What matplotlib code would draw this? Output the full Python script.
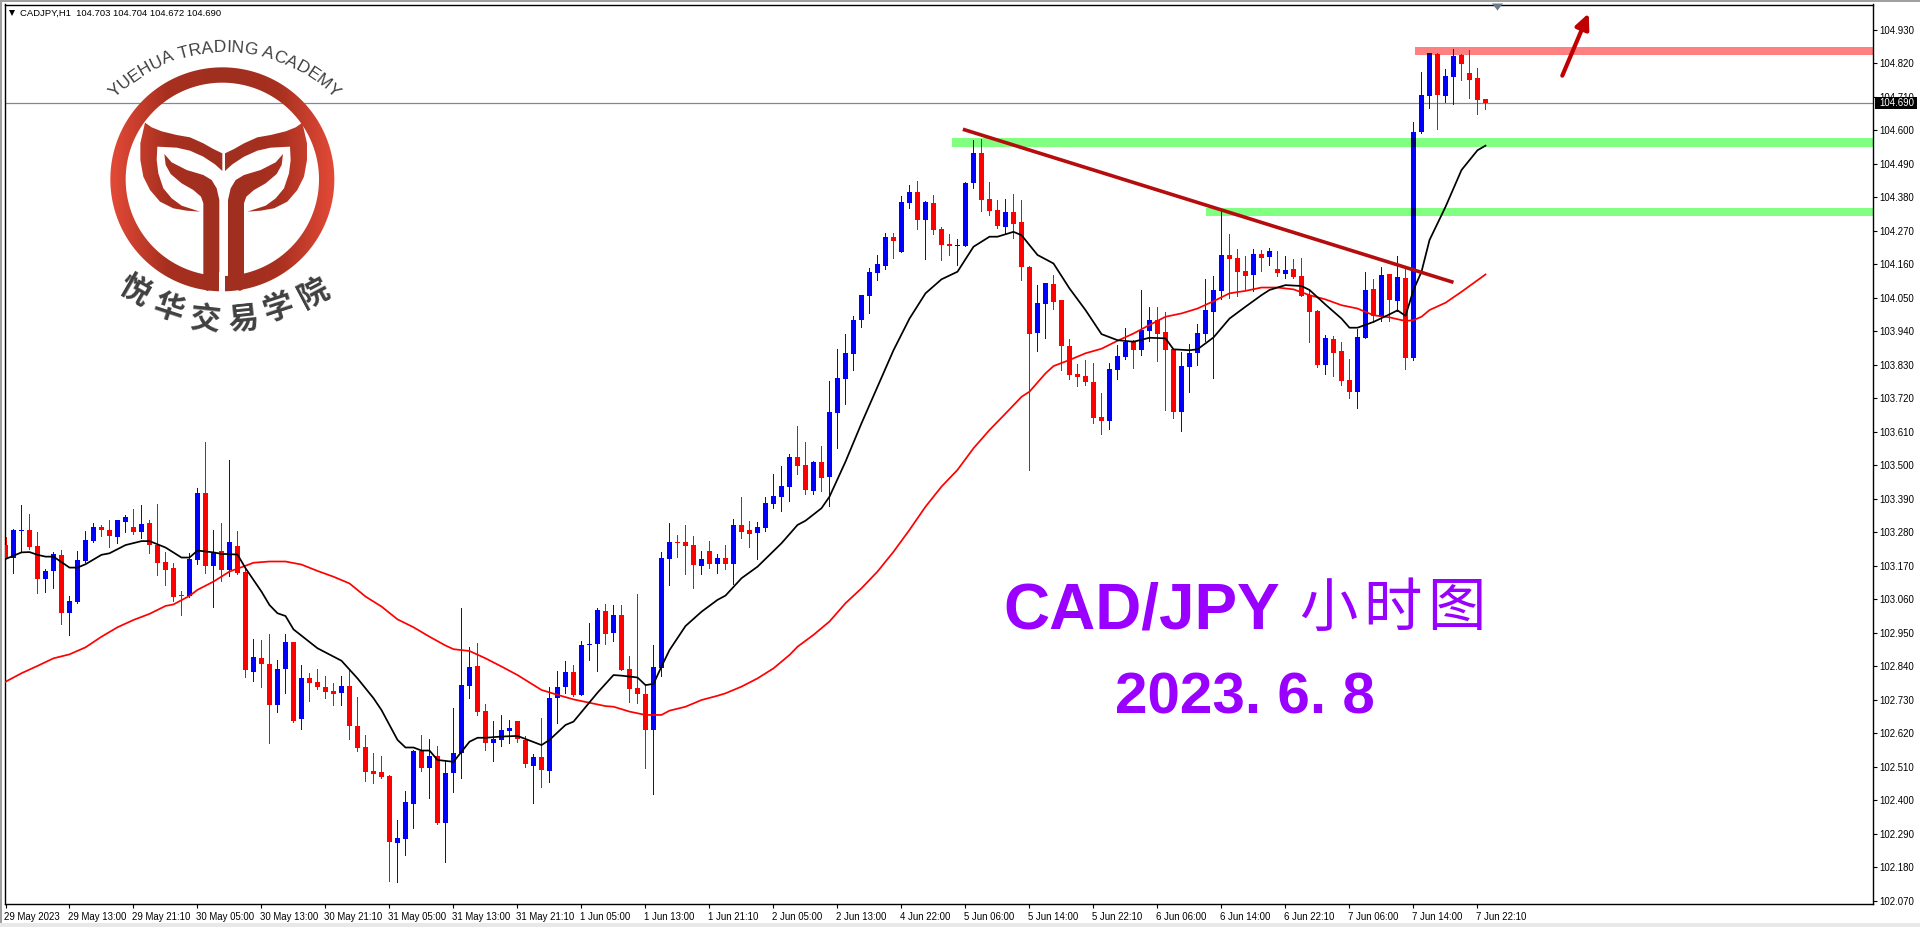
import numpy as np
import matplotlib
matplotlib.use('Agg')
import matplotlib.pyplot as plt
from matplotlib.patches import Polygon, Rectangle
from matplotlib.colors import LinearSegmentedColormap
from matplotlib.transforms import ScaledTranslation

plt.rcParams['font.family'] = ['Liberation Sans', 'DejaVu Sans']

### Data ###

opens = [103.238,103.195,103.285,103.288,103.235,103.128,103.154,103.206,103.016,103.051,
         103.186,103.251,103.297,103.288,103.265,103.315,103.297,103.281,103.311,103.238,
         103.183,103.163,103.074,103.071,103.190,103.409,103.170,103.219,103.157,103.235,
         103.150,102.822,102.867,102.847,102.714,102.831,102.920,102.665,102.801,102.788,
         102.772,102.759,102.752,102.775,102.644,102.575,102.496,102.493,102.479,102.259,
         102.273,102.388,102.562,102.506,102.545,102.325,102.489,102.555,102.775,102.841,
         102.693,102.588,102.598,102.627,102.660,102.598,102.512,102.542,102.496,102.734,
         102.772,102.821,102.746,102.910,102.913,103.022,102.949,103.008,102.831,102.769,
         102.749,102.631,102.834,103.192,103.248,103.248,103.238,103.169,103.219,103.176,
         103.196,103.176,103.304,103.288,103.278,103.294,103.373,103.396,103.429,103.527,
         103.501,103.416,103.511,103.462,103.672,103.783,103.865,103.977,104.056,104.131,
         104.154,104.250,104.200,104.361,104.397,104.306,104.361,104.276,104.227,104.220,
         104.220,104.427,104.526,104.374,104.338,104.282,104.332,104.299,104.151,103.934,
         104.030,104.095,104.043,103.892,103.800,103.793,103.773,103.658,103.645,103.813,
         103.855,103.905,103.878,103.941,103.977,103.938,103.882,103.675,103.823,103.869,
         103.931,104.003,104.072,104.191,104.181,104.138,104.125,104.194,104.184,104.145,
         104.128,104.145,104.122,104.059,104.007,103.829,103.915,103.875,103.780,103.740,
         103.918,104.079,103.987,104.128,104.039,104.115,103.852,104.595,104.713,104.851,
         104.713,104.776,104.848,104.789,104.772,104.703]
closes = [103.195,103.288,103.288,103.233,103.128,103.153,103.208,103.016,103.054,103.189,
          103.255,103.297,103.289,103.269,103.321,103.330,103.281,103.307,103.239,103.180,
          103.157,103.069,103.070,103.192,103.409,103.170,103.212,103.157,103.248,103.147,
          102.826,102.870,102.847,102.714,102.831,102.920,102.660,102.801,102.785,102.772,
          102.755,102.749,102.775,102.642,102.572,102.493,102.486,102.476,102.264,102.276,
          102.394,102.562,102.506,102.545,102.325,102.489,102.555,102.778,102.838,102.690,
          102.588,102.601,102.631,102.637,102.601,102.519,102.542,102.499,102.736,102.772,
          102.821,102.746,102.910,102.913,103.025,102.946,103.008,102.828,102.765,102.749,
          102.631,102.838,103.196,103.248,103.245,103.235,103.173,103.192,103.176,103.196,
          103.176,103.304,103.281,103.275,103.297,103.376,103.399,103.432,103.527,103.498,
          103.419,103.511,103.458,103.675,103.786,103.869,103.977,104.059,104.135,104.161,
          104.250,104.237,104.365,104.397,104.306,104.365,104.273,104.223,104.220,104.223,
          104.427,104.526,104.371,104.335,104.286,104.332,104.292,104.151,103.931,104.033,
          104.099,104.036,103.892,103.796,103.790,103.773,103.655,103.645,103.816,103.859,
          103.905,103.878,103.944,103.977,103.931,103.878,103.675,103.826,103.869,103.934,
          104.010,104.076,104.191,104.177,104.135,104.122,104.194,104.181,104.204,104.131,
          104.141,104.118,104.056,104.003,103.829,103.918,103.869,103.777,103.740,103.921,
          104.076,103.990,104.125,104.043,104.118,103.852,104.595,104.716,104.855,104.716,
          104.779,104.845,104.818,104.766,104.700,104.690]
highs = [103.266,103.291,103.370,103.340,103.281,103.158,103.214,103.222,103.071,103.219,
         103.284,103.311,103.303,103.321,103.321,103.337,103.357,103.370,103.321,103.373,
         103.215,103.179,103.086,103.211,103.426,103.577,103.288,103.311,103.518,103.284,
         103.167,102.930,102.926,102.946,102.861,102.946,102.920,102.844,102.818,102.831,
         102.808,102.785,102.808,102.828,102.739,102.614,102.555,102.545,102.483,102.335,
         102.430,102.565,102.614,102.601,102.578,102.532,102.703,103.031,102.903,102.916,
         102.716,102.660,102.680,102.663,102.660,102.611,102.552,102.670,102.772,102.824,
         102.857,102.844,102.923,102.982,103.031,103.045,103.041,103.041,102.874,103.077,
         102.778,102.910,103.215,103.311,103.271,103.304,103.268,103.219,103.251,103.209,
         103.238,103.324,103.396,103.317,103.314,103.396,103.472,103.498,103.537,103.629,
         103.577,103.514,103.564,103.777,103.882,103.931,103.990,104.059,104.148,104.191,
         104.263,104.263,104.384,104.420,104.434,104.368,104.388,104.282,104.259,104.243,
         104.430,104.568,104.572,104.430,104.371,104.374,104.391,104.371,104.154,104.092,
         104.099,104.125,104.043,103.915,103.832,103.846,103.836,103.737,103.836,103.895,
         103.951,103.911,104.076,104.020,104.020,104.003,103.882,103.872,103.898,103.964,
         104.112,104.122,104.338,104.259,104.210,104.187,104.210,104.207,104.213,104.204,
         104.187,104.177,104.181,104.076,104.010,103.928,103.924,103.905,103.849,103.947,
         104.135,104.112,104.151,104.128,104.187,104.145,104.627,104.792,104.855,104.855,
         104.802,104.868,104.851,104.864,104.805,104.704]
lows = [103.195,103.147,103.217,103.224,103.082,103.085,103.098,102.980,102.944,103.049,
        103.184,103.249,103.268,103.233,103.246,103.281,103.276,103.261,103.213,103.141,
        103.108,103.055,103.009,103.069,103.177,103.147,103.036,103.121,103.138,103.142,
        102.806,102.793,102.773,102.589,102.691,102.753,102.658,102.635,102.727,102.765,
        102.737,102.714,102.714,102.601,102.563,102.463,102.458,102.474,102.136,102.132,
        102.220,102.310,102.497,102.408,102.323,102.198,102.428,102.474,102.737,102.680,
        102.565,102.529,102.578,102.588,102.591,102.509,102.391,102.443,102.460,102.654,
        102.752,102.742,102.746,102.861,102.824,102.913,102.923,102.828,102.723,102.719,
        102.506,102.420,102.808,103.107,103.199,103.143,103.097,103.143,103.163,103.146,
        103.160,103.110,103.261,103.232,103.192,103.284,103.360,103.350,103.383,103.472,
        103.406,103.406,103.416,103.366,103.557,103.701,103.813,103.954,103.999,104.108,
        104.145,104.181,104.200,104.345,104.276,104.177,104.259,104.174,104.191,104.158,
        104.220,104.411,104.335,104.322,104.279,104.263,104.246,104.108,103.484,103.875,
        103.918,104.013,103.813,103.783,103.760,103.763,103.639,103.603,103.619,103.783,
        103.849,103.819,103.862,103.908,103.842,103.681,103.655,103.612,103.740,103.829,
        103.908,103.786,104.046,104.049,104.056,104.076,104.072,104.138,104.158,104.122,
        104.115,104.114,104.056,103.905,103.823,103.800,103.793,103.763,103.721,103.688,
        103.918,103.970,103.974,103.974,104.007,103.816,103.846,104.592,104.674,104.605,
        104.694,104.687,104.766,104.707,104.654,104.672]

red_ma_idx = [0,2,4,6,8,10,12,14,16,18,20,21,23,24,26,28,30,31,33,35,37,39,41,43,45,47,49,51,53,55,56,58,60,
              62,64,67,69,71,73,75,76,78,80,82,83,85,87,89,90,92,94,96,98,99,101,103,105,107,109,111,113,115,117,119,121,
              123,125,127,128,130,131,133,135,137,139,141,143,145,147,149,151,153,155,157,159,161,163,165,167,169,171,173,175,176,177,178,180,182,185]
red_ma = [102.789,102.817,102.841,102.866,102.879,102.902,102.937,102.968,102.992,103.012,103.038,103.043,103.071,103.091,103.118,103.151,103.170,103.180,103.184,103.184,103.174,103.153,103.134,103.112,103.069,103.036,102.994,102.968,102.937,102.908,102.896,102.890,102.866,
          102.839,102.811,102.762,102.746,102.731,102.720,102.709,102.707,102.691,102.680,102.680,102.694,102.707,102.729,102.743,102.751,102.773,102.800,102.833,102.877,102.904,102.943,102.987,103.047,103.096,103.151,103.216,103.288,103.364,103.430,103.485,103.556,
          103.616,103.670,103.725,103.742,103.802,103.826,103.846,103.868,103.883,103.909,103.933,103.961,103.988,103.999,104.015,104.039,104.065,104.073,104.084,104.084,104.078,104.059,104.045,104.026,104.015,103.993,103.986,103.974,103.977,103.988,104.010,104.034,104.070,104.127]

black_ma_idx = [0,2,3,4,5,6,8,9,10,12,13,15,17,18,20,22,23,24,26,27,29,30,32,33,34,35,36,39,42,44,46,47,49,50,51,52,53,54,56,58,59,60,
                62,64,67,68,70,71,74,76,77,79,80,81,82,83,85,87,89,90,92,94,97,99,100,102,103,105,107,
                109,111,113,115,117,119,121,123,124,126,127,129,131,133,135,137,139,141,143,145,146,148,149,151,153,155,157,158,160,162,163,165,167,168,169,171,173,174,175,176,177,178,180,182,184,185]
black_ma = [103.192,103.214,103.215,103.206,103.200,103.200,103.164,103.164,103.175,103.206,103.211,103.238,103.251,103.251,103.230,103.197,103.197,103.220,103.214,103.209,103.207,103.162,103.085,103.041,103.014,103.005,102.961,102.899,102.858,102.800,102.735,102.696,102.598,102.573,102.573,102.563,102.563,102.532,102.526,102.592,102.605,102.605,
            102.609,102.611,102.581,102.598,102.647,102.658,102.753,102.811,102.809,102.803,102.778,102.782,102.839,102.893,102.972,103.019,103.058,103.072,103.129,103.167,103.244,103.304,103.318,103.359,103.397,103.512,103.638,
            103.758,103.878,103.982,104.065,104.111,104.136,104.218,104.251,104.251,104.267,104.256,104.191,104.163,104.081,104.010,103.931,103.911,103.906,103.919,103.917,103.881,103.878,103.881,103.920,103.982,104.021,104.059,104.076,104.092,104.089,104.076,104.028,103.982,103.952,103.952,103.971,103.996,104.009,103.991,104.076,104.136,104.240,104.349,104.470,104.535,104.550]

x_ticks = list(range(0, 185, 8))
x_labels = ['29 May 2023','29 May 13:00','29 May 21:10','30 May 05:00','30 May 13:00','30 May 21:10',
            '31 May 05:00','31 May 13:00','31 May 21:10','1 Jun 05:00','1 Jun 13:00','1 Jun 21:10',
            '2 Jun 05:00','2 Jun 13:00','4 Jun 22:00','5 Jun 06:00','5 Jun 14:00','5 Jun 22:10',
            '6 Jun 06:00','6 Jun 14:00','6 Jun 22:10','7 Jun 06:00','7 Jun 14:00','7 Jun 22:10']
y_ticks = [102.07 + 0.11 * k for k in range(27)]
y_labels = ['%.3f' % v for v in y_ticks]

band_bottoms = [104.545, 104.319, 104.848]
band_tops = [104.575, 104.345, 104.874]
band_starts = [118.3, 150.06, 176.2]
band_colours = ['#80ff80', '#80ff80', '#ff8080']

trend_x = [119.67, 181.0]
trend_y = [104.604, 104.101]
last_price = 104.690

### Figure and main chart ###

W, H = 1920, 927
fig = plt.figure(figsize=(W / 100, H / 100), dpi=100, facecolor='white')

left, right, top, bottom = 4.5, 1873.5, 4.5, 904.0
ax = fig.add_axes([left / W, 1 - bottom / H, (right - left) / W, (bottom - top) / H])
ax.set_xlim((left - 5.5) / 8, (right - 5.5) / 8)
ax.set_ylim(104.93 - (bottom - 30) * 0.003285, 104.93 + (30 - top) * 0.003285)
for s in ax.spines.values():
    s.set_linewidth(1.0)
    s.set_color('black')

ax.axhline(last_price, color='#808890', lw=0.9, zorder=1)

for b, t, st, c in zip(band_bottoms, band_tops, band_starts, band_colours):
    ax.add_patch(Rectangle((st, b), ax.get_xlim()[1] - st, t - b, fc=c, ec='none', zorder=2))

x = np.arange(len(opens))
o = np.array(opens)
c = np.array(closes)
colours = np.where(c >= o, '#0000ff', '#ff0000')
ax.vlines(x, lows, highs, colors=colours, lw=0.7, antialiased=False, zorder=3)
ax.bar(x, np.maximum(np.abs(c - o), 0.0033), bottom=np.minimum(o, c), width=0.625, color=colours,
       linewidth=0, antialiased=False, zorder=4)

# blue under the bands shows up dark, the bands were laid over in multiply
for b, t, st in zip(band_bottoms, band_tops, band_starts):
    for i in x:
        if c[i] > o[i] and i > st and c[i] > b and o[i] < t:
            ax.bar(i, min(t, c[i]) - max(b, o[i]), bottom=max(b, o[i]), width=0.625, color='#000080',
                   linewidth=0, antialiased=False, zorder=5)

ax.plot(red_ma_idx, red_ma, color='#ff0000', lw=1.25, zorder=6)
ax.plot(black_ma_idx, black_ma, color='#000000', lw=1.25, zorder=7)
ax.plot(trend_x, trend_y, color='#b50d0d', lw=2.6, solid_capstyle='butt', zorder=8)
ax.annotate('', xy=(197.9, 104.985), xytext=(194.6, 104.78), zorder=9,
            arrowprops=dict(arrowstyle='-|>,head_length=0.9,head_width=0.42', color='#c00000', lw=3, shrinkA=0, shrinkB=0))

ax.set_xticks(x_ticks)
ax.set_xticklabels(x_labels, ha='left', fontsize=6.9)
ax.set_yticks(y_ticks)
ax.set_yticklabels(y_labels, fontsize=6.9)
ax.yaxis.tick_right()
ax.tick_params(axis='x', length=3, width=0.8, pad=2.5)
ax.tick_params(axis='y', length=3, width=0.8, pad=1.5)
for lab in ax.get_xticklabels():
    lab.set_transform(lab.get_transform() + ScaledTranslation(-1.5 / 100, 0, fig.dpi_scale_trans))

### Overlay in pixel coordinates: window frame, logo, captions ###

px = fig.add_axes([0, 0, 1, 1], zorder=10)
px.set_xlim(0, W)
px.set_ylim(H, 0)
px.axis('off')
px.patch.set_alpha(0)

px.add_patch(Rectangle((0, 0), W, 2, fc='#a0a0a0', ec='none'))
px.add_patch(Rectangle((0, 0), 2, H, fc='#a0a0a0', ec='none'))
px.add_patch(Rectangle((0, 923), W, 4, fc='#e8e8e8', ec='none'))
px.add_patch(Polygon([(1492, 3.5), (1503, 3.5), (1497.5, 10.5)], closed=True, fc='#6b7b8b', ec='none'))

px.plot([12], [13], marker='v', color='black', ms=4.5, mew=0)
px.text(20, 13, 'CADJPY,H1  104.703 104.704 104.672 104.690', fontsize=6.8, va='center', ha='left')

px.add_patch(Rectangle((1875, 97), 41.5, 11.5, fc='black', ec='none', zorder=5))
px.text(1879, 103, '104.690', color='white', fontsize=6.9, va='center', ha='left', zorder=6)

px.text(1003, 628, 'CAD/JPY', color='#9900ff', fontsize=46, fontweight='bold', va='baseline', ha='left')
for ch, cx in zip('小时图', [1328, 1392, 1456]):
    px.text(cx, 609, ch, color='#9900ff', fontsize=42, family=['Noto Sans CJK SC', 'DejaVu Sans'], va='center', ha='center')
px.text(1115, 713, '2023. 6. 8', color='#9900ff', fontsize=42, fontweight='bold', va='baseline', ha='left')

cx0, cy0 = 667.0, 538.0
th = np.linspace(0, 2 * np.pi, 361)
ring = np.vstack([np.c_[cx0 + 336 * np.cos(th), cy0 + 336 * np.sin(th)],
                  np.c_[cx0 + 290 * np.cos(th[::-1]), cy0 + 290 * np.sin(th[::-1])]])
crown = np.array([(435,368),(455,382),(485,394),(530,405),(570,412),(610,430),(640,447),(667,460),
                  (667,513),(645,493),(610,470),(570,452),(530,443),(472,440),(470,480),(475,520),
                  (490,565),(515,595),(545,617),(600,635),(560,632),(520,625),(480,605),(450,570),
                  (430,530),(421,480),(421,430)], dtype=float)
stem = np.array([(493,462),(515,487),(560,510),(610,525),(635,540),(650,565),(658,600),(658,845),
                 (645,862),(622,873),(600,860),(610,822),(610,610),(603,590),(580,570),(545,550),
                 (512,522),(497,495)], dtype=float)
mirror = lambda p: np.c_[2 * cx0 + 8 - p[:, 0], p[:, 1]]
parts = [ring, crown, mirror(crown), stem, mirror(stem)]

logo_cmap = LinearSegmentedColormap.from_list('logo', ['#e34a37', '#a8301f', '#9f2f20', '#a8301f', '#e34a37'])
grad = np.linspace(0, 1, 300).reshape(1, -1)
for p in parts:
    im = px.imshow(grad, cmap=logo_cmap, extent=[110, 335, 292, 67], aspect='auto', zorder=2)
    poly = Polygon(p / 3.0, closed=True, transform=px.transData, fc='none', ec='none')
    px.add_patch(poly)
    im.set_clip_path(poly)
px.set_xlim(0, W)
px.set_ylim(H, 0)
px.add_patch(Rectangle((658 / 3, 815 / 3), 18 / 3, 65 / 3, fc='white', ec='none', zorder=3))

adv = {'Y':.667,'U':.722,'E':.667,'H':.722,'A':.667,' ':.278,'T':.611,'R':.722,'D':.722,'I':.278,
       'N':.722,'G':.778,'C':.722,'M':.833}
arc_text = 'YUEHUA TRADING ACADEMY'
arc_size = 17.3
arc_r = 153.0
total = sum(adv[ch] for ch in arc_text) * arc_size
pos = -total / 2
for ch in arc_text:
    w = adv[ch] * arc_size
    ang = (pos + w / 2) / arc_r
    px.text(224.5 + arc_r * np.sin(ang), 205 - arc_r * np.cos(ang), ch, color='#404040', fontsize=12.5,
            rotation=-np.degrees(ang), rotation_mode='anchor', ha='center', va='baseline', zorder=4)
    pos += w

cn_chars = '悦华交易学院'
cn_x = [405, 505, 615, 730, 835, 940]
cn_y = [870, 925, 960, 960, 925, 880]
cn_rot = [30, 18, 6, -6, -18, -28]
for ch, a, b, r in zip(cn_chars, cn_x, cn_y, cn_rot):
    px.text(a / 3, b / 3, ch, color='#404040', fontsize=22, fontweight='bold', rotation=-r,
            family=['Noto Sans CJK SC', 'DejaVu Sans'], ha='center', va='center', rotation_mode='anchor', zorder=4)

fig.savefig('out.png', dpi=100, facecolor='white')
